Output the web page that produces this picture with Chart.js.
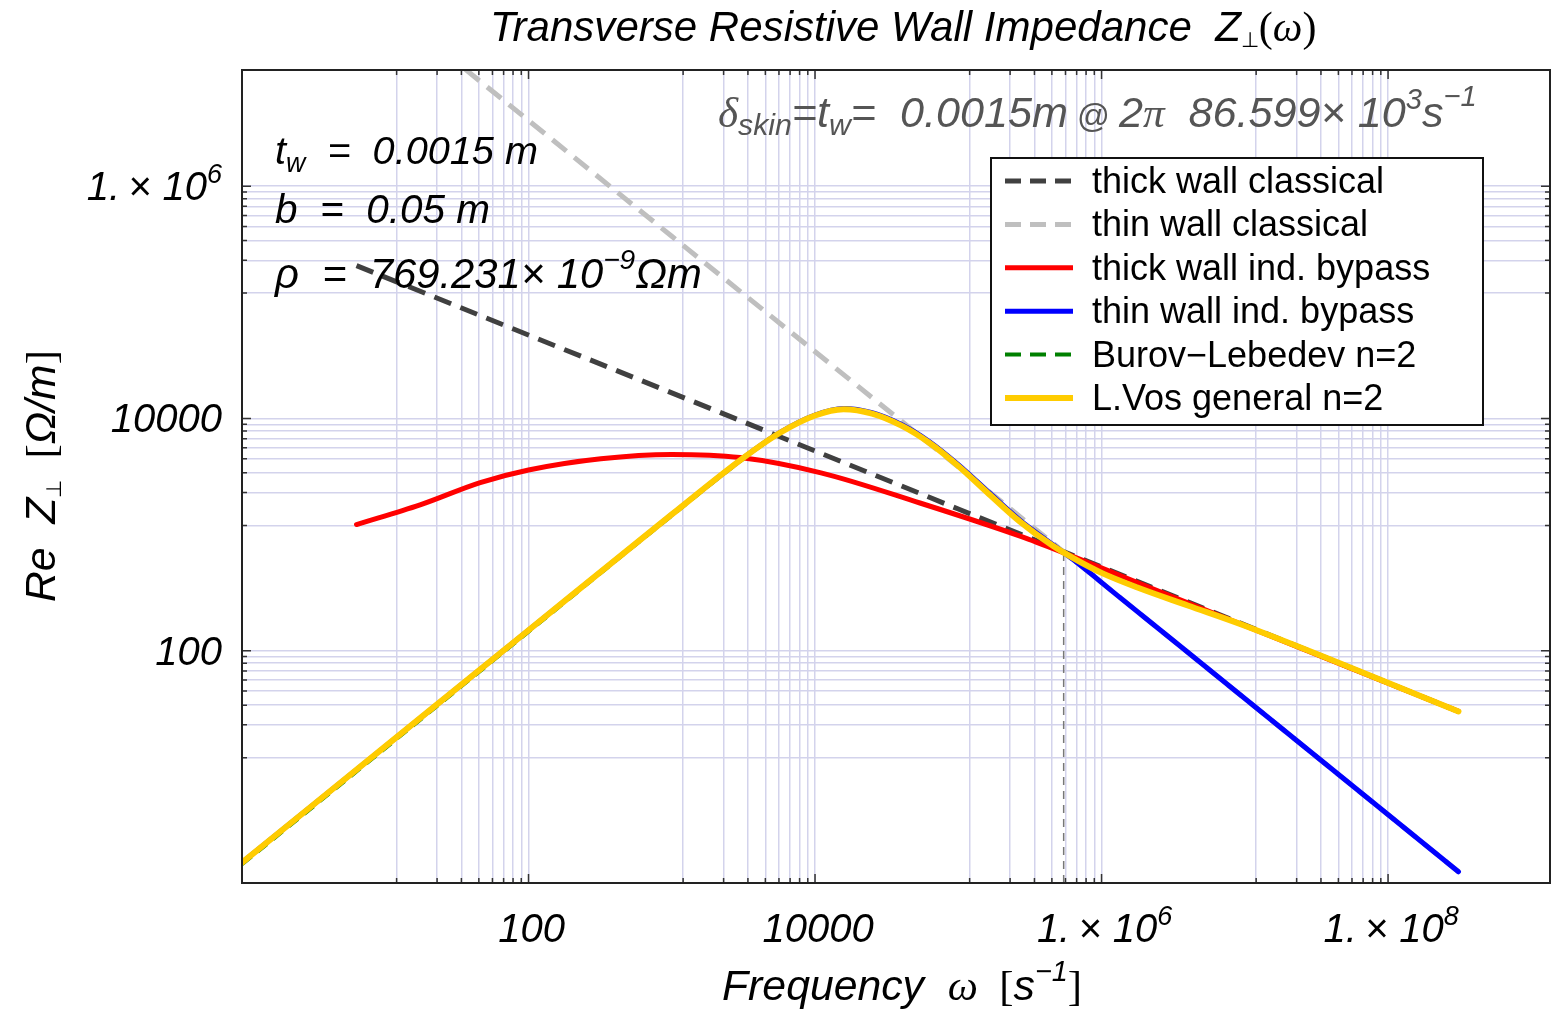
<!DOCTYPE html>
<html>
<head>
<meta charset="utf-8">
<title>Transverse Resistive Wall Impedance</title>
<script src="https://cdn.jsdelivr.net/npm/chart.js@4.4.1/dist/chart.umd.min.js"></script>
<style>
  html, body { margin: 0; padding: 0; background: #fff; }
  #wrap { width: 1551px; height: 1012px; position: relative; }
</style>
</head>
<body>
<div id="wrap"><canvas id="chart"></canvas></div>
<script>
// --- datos (omega en s^-1, Re Z en Ohm/m) ---
const freqThickClassical = [6.3, 1.0e3, 1.0e5, 3.1e8];
const zThickClassical    = [2.07e5, 1.66e4, 1.66e3, 30];

const freqThinClassical = [6.3, 1.0e3, 5.44e5, 3.1e8];
const zThinClassical    = [5.8e7, 3.7e5, 710, 1.25];

const freqThickBypass = [6.3, 17.5, 46, 100, 320, 1000, 3000, 1.1e4, 5.4e4, 2.7e5, 5.4e5, 2.3e6, 3.1e8];
const zThickBypass    = [1220, 1800, 2800, 3600, 4500, 4900, 4600, 3400, 1870, 970, 700, 340, 30];

const freqThinBypass = [1, 10, 100, 1000, 3160, 5620, 1.0e4, 1.58e4, 2.5e4, 3.98e4, 6.3e4, 1.0e5, 1.58e5, 2.68e5, 4.57e5, 6.3e5, 1.34e6, 3.15e6, 3.1e8];
const zThinBypass    = [1.5, 15, 150, 1490, 4570, 7500, 1.07e4, 1.22e4, 1.12e4, 8900, 6300, 4000, 2400, 1340, 820, 612, 288, 123, 1.25];

const freqGeneral = [1, 10, 100, 1000, 3160, 5620, 1.0e4, 1.58e4, 2.5e4, 3.98e4, 6.3e4, 1.0e5, 1.58e5, 2.68e5, 4.57e5, 6.3e5, 1.0e6, 1.78e6, 4.0e6, 1.0e7, 3.1e8];
const zBurovLebedev = [1.45, 14.5, 146, 1460, 4500, 7400, 1.06e4, 1.21e4, 1.11e4, 8800, 6200, 3950, 2360, 1320, 810, 635, 475, 355, 248, 165, 30];
const zVosGeneral   = [1.5, 15, 150, 1490, 4570, 7450, 1.06e4, 1.2e4, 1.1e4, 8700, 6150, 3900, 2330, 1300, 800, 630, 468, 350, 245, 164, 30];

// frecuencia donde delta_skin = t_w (2*pi*86.599e3)
const freqSkin = [5.44e5, 5.44e5];
const zSkin    = [1, 710];

// ticks mayores y etiquetas
const xMajorTicks = [1, 100, 1e4, 1e6, 1e8];
const yMajorTicks = [1, 100, 1e4, 1e6];
const xTickLabels = { 100: ['100'], 10000: ['10000'], 1000000: ['1.\u2009\u00d7 10', '6'], 100000000: ['1.\u2009\u00d7 10', '8'] };
const yTickLabels = { 100: ['100'], 10000: ['10000'], 1000000: ['1.\u2009\u00d7 10', '6'] };

const SANS = '"Liberation Sans", Arial, Helvetica, sans-serif';
const SERIF = '"Liberation Serif", "Times New Roman", serif';
const GRID = '#d3d3ec';

// ticks menores: subdivision lineal entre mayores (como Mathematica)
function buildTicks(majors) {
    const out = [];
    for (let i = 0; i < majors.length; i++) {
        if (i > 0) {
            const a = majors[i - 1], b = majors[i];
            for (let k = 1; k <= 8; k++) out.push({ value: a + k * (b - a) / 9, major: false });
        }
        out.push({ value: majors[i], major: true });
    }
    return out;
}

function pts(xs, ys) { return xs.map((x, i) => ({ x: x, y: ys[i] })); }

const series = [
    { label: 'thick wall classical', data: pts(freqThickClassical, zThickClassical), color: '#404040', width: 5, dash: [18, 10], order: 6 },
    { label: 'thin wall classical', data: pts(freqThinClassical, zThinClassical), color: '#bfbfbf', width: 5, dash: [18, 10], order: 5 },
    { label: 'thick wall ind. bypass', data: pts(freqThickBypass, zThickBypass), color: '#ff0000', width: 5, order: 4, smooth: true },
    { label: 'thin wall ind. bypass', data: pts(freqThinBypass, zThinBypass), color: '#0000ff', width: 5, order: 3, smooth: true },
    { label: 'Burov\u2212Lebedev n=2', data: pts(freqGeneral, zBurovLebedev), color: '#008000', width: 4, dash: [12, 8], order: 2, smooth: true },
    { label: 'L.Vos general n=2', data: pts(freqGeneral, zVosGeneral), color: '#ffcc00', width: 6, order: 1, smooth: true }
];

const datasets = series.map(s => ({
    label: s.label,
    data: s.data,
    borderColor: s.color,
    backgroundColor: s.color,
    borderWidth: s.width,
    borderDash: s.dash || [],
    borderCapStyle: s.dash ? 'butt' : 'round',
    borderJoinStyle: 'round',
    cubicInterpolationMode: s.smooth ? 'monotone' : 'default',
    pointRadius: 0,
    fill: false,
    order: s.order
}));
datasets.push({
    label: 'skin',
    data: pts(freqSkin, zSkin),
    borderColor: '#777',
    borderWidth: 1.5,
    borderDash: [8, 6],
    pointRadius: 0,
    fill: false,
    order: 7
});

// texto con varios tramos (sub/superindices)
function fontOf(s, k) {
    return (s.style || 'italic') + ' ' + (s.size * k).toFixed(2) + 'px ' + (s.family || SANS);
}
function drawRich(ctx, segs, x, y, align, fitW) {
    let w = 0;
    segs.forEach(s => { ctx.font = fontOf(s, 1); w += ctx.measureText(s.t).width; });
    let k = 1;
    if (fitW) { k = fitW / w; w = fitW; }
    let cx = align === 'center' ? x - w / 2 : (align === 'right' ? x - w : x);
    ctx.textAlign = 'left';
    ctx.textBaseline = 'alphabetic';
    segs.forEach(s => {
        ctx.font = fontOf(s, k);
        ctx.fillStyle = s.color || '#000';
        ctx.fillText(s.t, cx, y + (s.dy || 0) * k);
        cx += ctx.measureText(s.t).width;
    });
}

const decoPlugin = {
    id: 'deco',
    afterDraw(chart) {
        const ctx = chart.ctx;
        const a = chart.chartArea;
        const xs = chart.scales.x, ys = chart.scales.y;
        ctx.save();

        // marcas de ticks hacia dentro en los cuatro lados
        ctx.strokeStyle = '#333';
        ctx.lineWidth = 1.5;
        ctx.beginPath();
        xs.ticks.forEach(t => {
            const px = xs.getPixelForValue(t.value);
            if (px <= a.left + 1 || px >= a.right - 1) return;
            const len = t.major ? 9 : 5;
            ctx.moveTo(px, a.bottom); ctx.lineTo(px, a.bottom - len);
            ctx.moveTo(px, a.top); ctx.lineTo(px, a.top + len);
        });
        ys.ticks.forEach(t => {
            const py = ys.getPixelForValue(t.value);
            if (py >= a.bottom - 1 || py <= a.top + 1) return;
            const len = t.major ? 9 : 5;
            ctx.moveTo(a.left, py); ctx.lineTo(a.left + len, py);
            ctx.moveTo(a.right, py); ctx.lineTo(a.right - len, py);
        });
        ctx.stroke();

        // marco
        ctx.strokeStyle = '#222';
        ctx.lineWidth = 2;
        ctx.strokeRect(a.left, a.top, a.right - a.left, a.bottom - a.top);

        // etiquetas de ticks
        xMajorTicks.forEach(v => {
            const lab = xTickLabels[v];
            if (!lab) return;
            const px = xs.getPixelForValue(v) + 3;
            const segs = [{ t: lab[0], size: 40 }];
            if (lab[1]) segs.push({ t: lab[1], size: 27, dy: -17 });
            drawRich(ctx, segs, px, 942, 'center');
        });
        yMajorTicks.forEach(v => {
            const lab = yTickLabels[v];
            if (!lab) return;
            const py = ys.getPixelForValue(v);
            const segs = [{ t: lab[0], size: 40 }];
            if (lab[1]) segs.push({ t: lab[1], size: 27, dy: -17 });
            drawRich(ctx, segs, 222, py + 14, 'right');
        });

        // titulo
        drawRich(ctx, [
            { t: 'Transverse Resistive Wall Impedance  Z', size: 41 },
            { t: '\u22a5', size: 20, dy: 6, style: 'normal' },
            { t: '(', size: 41, family: SERIF, style: 'normal' },
            { t: '\u03c9', size: 41, family: SERIF },
            { t: ')', size: 41, family: SERIF, style: 'normal' }
        ], 490, 41, 'left', 826);

        // titulos de ejes
        drawRich(ctx, [
            { t: 'Frequency  ', size: 40 },
            { t: '\u03c9', size: 40, family: SERIF },
            { t: '  [', size: 40, family: SERIF, style: 'normal' },
            { t: 's', size: 40 },
            { t: '\u22121', size: 27, dy: -18 },
            { t: ']', size: 40, family: SERIF, style: 'normal' }
        ], 722, 1000, 'left', 360);

        ctx.save();
        ctx.translate(55, 476);
        ctx.rotate(-Math.PI / 2);
        drawRich(ctx, [
            { t: 'Re  Z', size: 40 },
            { t: '\u22a5', size: 20, dy: 6, style: 'normal' },
            { t: '  [', size: 40, family: SERIF, style: 'normal' },
            { t: '\u03a9/m', size: 40 },
            { t: ']', size: 40, family: SERIF, style: 'normal' }
        ], 0, 0, 'center', 252);
        ctx.restore();

        // parametros
        drawRich(ctx, [
            { t: 't', size: 40 },
            { t: 'w', size: 27, dy: 8 },
            { t: '  =  0.0015 m', size: 40 }
        ], 275, 164, 'left', 263);
        drawRich(ctx, [
            { t: 'b  =  0.05 m', size: 40 }
        ], 275, 223, 'left', 215);
        drawRich(ctx, [
            { t: '\u03c1  =  769.231\u00d7 10', size: 40 },
            { t: '\u22129', size: 27, dy: -18 },
            { t: '\u03a9m', size: 40 }
        ], 275, 288, 'left', 427);

        // anotacion del espesor de piel
        const G = '#555555';
        drawRich(ctx, [
            { t: '\u03b4', size: 40, family: SERIF, color: G },
            { t: 'skin', size: 28, dy: 7, color: G },
            { t: '=', size: 40, color: G },
            { t: 't', size: 40, color: G },
            { t: 'w', size: 28, dy: 7, color: G },
            { t: '=  0.0015m', size: 40, color: G },
            { t: ' @ ', size: 30, style: 'normal', color: G },
            { t: '2', size: 40, color: G },
            { t: '\u03c0', size: 40, family: SERIF, color: G },
            { t: '  86.599\u00d7 10', size: 40, color: G },
            { t: '3', size: 27, dy: -17, color: G },
            { t: 's', size: 40, color: G },
            { t: '\u22121', size: 27, dy: -19, color: G }
        ], 718, 127, 'left', 759);

        // leyenda
        const lx = 991, ly = 158, lw = 492, lh = 267;
        ctx.fillStyle = '#fff';
        ctx.fillRect(lx, ly, lw, lh);
        ctx.strokeStyle = '#111';
        ctx.lineWidth = 2;
        ctx.strokeRect(lx, ly, lw, lh);
        series.forEach((s, i) => {
            const cy = 181 + i * 43.4;
            ctx.beginPath();
            ctx.strokeStyle = s.color;
            ctx.lineWidth = s.width;
            ctx.lineCap = 'butt';
            ctx.setLineDash(s.dash ? [16, 9] : []);
            ctx.moveTo(1005, cy);
            ctx.lineTo(1073, cy);
            ctx.stroke();
            ctx.setLineDash([]);
            ctx.font = '36px ' + SANS;
            ctx.fillStyle = '#000';
            ctx.textAlign = 'left';
            ctx.textBaseline = 'alphabetic';
            ctx.fillText(s.label, 1092, cy + 12);
        });

        ctx.restore();
    }
};

const axisCommon = {
    type: 'logarithmic',
    grid: { color: GRID, lineWidth: 1.5, drawTicks: false },
    border: { display: false },
    ticks: { display: false, autoSkip: false }
};

new Chart(document.getElementById('chart').getContext('2d'), {
    type: 'line',
    data: { datasets: datasets },
    options: {
        responsive: true,
        maintainAspectRatio: false,
        animation: false,
        parsing: true,
        layout: { padding: { left: 242, top: 70, right: 1, bottom: 129 } },
        plugins: {
            legend: { display: false },
            title: { display: false },
            tooltip: { enabled: false }
        },
        scales: {
            x: Object.assign({}, axisCommon, {
                min: 1, max: 1.35e9,
                afterBuildTicks: s => { s.ticks = buildTicks(xMajorTicks); },
                afterFit: s => { s.height = 0; }
            }),
            y: Object.assign({}, axisCommon, {
                min: 1, max: 1e7,
                afterBuildTicks: s => { s.ticks = buildTicks(yMajorTicks); },
                afterFit: s => { s.width = 0; }
            })
        }
    },
    plugins: [decoPlugin]
});
</script>
</body>
</html>
